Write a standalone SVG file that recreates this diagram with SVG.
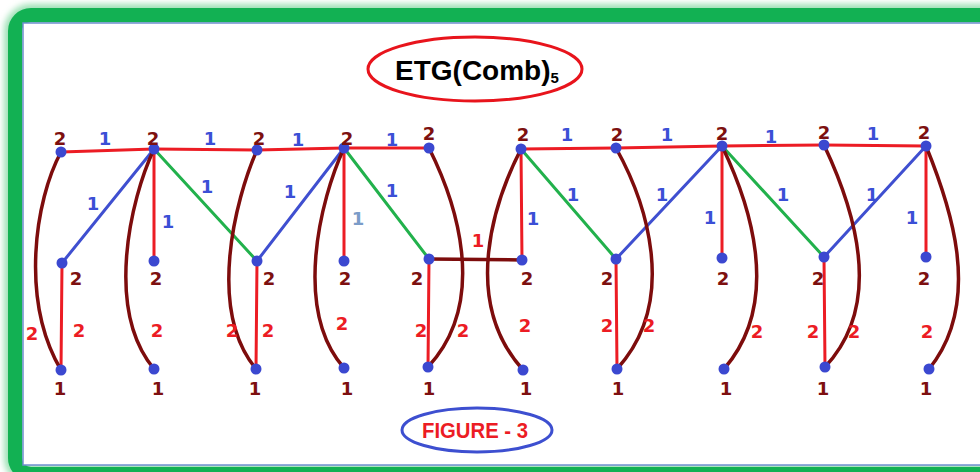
<svg xmlns="http://www.w3.org/2000/svg" width="980" height="472" viewBox="0 0 980 472">
<defs>
<filter id="soft" x="-5%" y="-5%" width="110%" height="110%"><feGaussianBlur stdDeviation="3"/></filter>
</defs>
<style>
.red{stroke:#ec1c24;stroke-width:3;fill:none;stroke-linecap:round}
.blue{stroke:#3f4fd0;stroke-width:3;fill:none;stroke-linecap:round}
.green{stroke:#22b14c;stroke-width:3;fill:none;stroke-linecap:round}
.mar{stroke:#7d0c0c;stroke-width:3.5;fill:none;stroke-linecap:round}
.dot{fill:#3b48d0}
text{font-family:"DejaVu Sans","Liberation Sans",sans-serif;font-weight:bold;font-size:18px;text-anchor:middle}
.nl{fill:#7d1010}
.bl{fill:#3b4fd6}
.lb{fill:#7b9cc8}
.rl{fill:#ec1c24}
</style>
<rect x="0" y="0" width="980" height="472" fill="#ffffff"/>
<g id="frame">
<rect x="15" y="15" width="1000" height="459" rx="16" fill="none" stroke="#9be0b4" stroke-width="22" filter="url(#soft)"/>
<rect x="15" y="15" width="1000" height="459" rx="16" fill="none" stroke="#12b153" stroke-width="14"/>
<rect x="23" y="23" width="970" height="442" fill="#ffffff" stroke="#6f8fcf" stroke-width="1.5"/>
</g>
<g id="title">
<ellipse cx="475" cy="69" rx="107" ry="32" fill="none" stroke="#e8141c" stroke-width="3"/>
<text x="395" y="80" style="font-family:'Liberation Sans',sans-serif;font-size:28px;text-anchor:start;fill:#000">ETG(Comb)<tspan dy="3" style="font-size:15px">5</tspan></text>
</g>
<g id="caption">
<ellipse cx="477" cy="430" rx="75" ry="22" fill="none" stroke="#3d4fd0" stroke-width="3"/>
<text x="422" y="438" style="font-family:'Liberation Sans',sans-serif;font-size:22px;text-anchor:start;fill:#ec1c24" textLength="106" lengthAdjust="spacingAndGlyphs">FIGURE - 3</text>
</g>
<g id="connectors">
<line class="red" x1="61" y1="152" x2="154" y2="149"/>
<line class="red" x1="154" y1="149" x2="257" y2="150"/>
<line class="red" x1="257" y1="150" x2="344" y2="148"/>
<line class="red" x1="344" y1="148" x2="429" y2="148"/>
<line class="red" x1="521" y1="149" x2="616" y2="148"/>
<line class="red" x1="616" y1="148" x2="722" y2="146"/>
<line class="red" x1="722" y1="146" x2="824" y2="145"/>
<line class="red" x1="824" y1="145" x2="926" y2="146"/>
<line class="red" x1="154" y1="149" x2="154" y2="261"/>
<line class="red" x1="344" y1="148" x2="344" y2="261"/>
<line class="red" x1="521" y1="149" x2="522" y2="260"/>
<line class="red" x1="722" y1="146" x2="722" y2="258"/>
<line class="red" x1="926" y1="146" x2="926" y2="257"/>
<line class="red" x1="62" y1="263" x2="61" y2="370"/>
<line class="red" x1="257" y1="261" x2="256" y2="369"/>
<line class="red" x1="429" y1="259" x2="428" y2="367"/>
<line class="red" x1="616" y1="259" x2="617" y2="369"/>
<line class="red" x1="824" y1="257" x2="825" y2="367"/>
<line class="blue" x1="154" y1="149" x2="62" y2="263"/>
<line class="blue" x1="344" y1="148" x2="257" y2="261"/>
<line class="blue" x1="722" y1="146" x2="616" y2="259"/>
<line class="blue" x1="926" y1="146" x2="824" y2="257"/>
<line class="green" x1="154" y1="149" x2="257" y2="261"/>
<line class="green" x1="344" y1="148" x2="429" y2="259"/>
<line class="green" x1="521" y1="149" x2="616" y2="259"/>
<line class="green" x1="722" y1="146" x2="824" y2="257"/>
<line class="mar" x1="429" y1="259" x2="522" y2="260"/>
<path class="mar" d="M61,152 C35,200 20,300 61,370"/>
<path class="mar" d="M154,149 C130,200 105,310 154,369"/>
<path class="mar" d="M257,150 C235,200 207,310 256,369"/>
<path class="mar" d="M344,148 C320,200 293,310 344,368"/>
<path class="mar" d="M429,148 C455,200 490,300 428,367"/>
<path class="mar" d="M521,149 C495,200 460,300 523,370"/>
<path class="mar" d="M616,148 C645,200 680,300 617,369"/>
<path class="mar" d="M722,146 C748,200 784,300 724,369"/>
<path class="mar" d="M824,145 C850,200 888,300 825,367"/>
<path class="mar" d="M926,146 C948,200 985,300 929,369"/>
<text class="bl" x="105" y="145">1</text>
<text class="bl" x="210" y="145">1</text>
<text class="bl" x="298" y="146">1</text>
<text class="bl" x="392" y="146">1</text>
<text class="bl" x="567" y="141">1</text>
<text class="bl" x="667" y="141">1</text>
<text class="bl" x="771" y="143">1</text>
<text class="bl" x="873" y="140">1</text>
<text class="bl" x="93" y="210">1</text>
<text class="bl" x="168" y="228">1</text>
<text class="bl" x="207" y="193">1</text>
<text class="bl" x="290" y="198">1</text>
<text class="lb" x="358" y="225">1</text>
<text class="bl" x="392" y="197">1</text>
<text class="bl" x="533" y="225">1</text>
<text class="bl" x="573" y="201">1</text>
<text class="bl" x="662" y="201">1</text>
<text class="bl" x="710" y="224">1</text>
<text class="bl" x="783" y="201">1</text>
<text class="bl" x="872" y="201">1</text>
<text class="bl" x="912" y="224">1</text>
<text class="rl" x="478" y="247">1</text>
<text class="rl" x="32" y="340">2</text>
<text class="rl" x="79" y="337">2</text>
<text class="rl" x="157" y="337">2</text>
<text class="rl" x="232" y="337">2</text>
<text class="rl" x="268" y="337">2</text>
<text class="rl" x="342" y="330">2</text>
<text class="rl" x="421" y="337">2</text>
<text class="rl" x="463" y="337">2</text>
<text class="rl" x="525" y="332">2</text>
<text class="rl" x="607" y="332">2</text>
<text class="rl" x="649" y="332">2</text>
<text class="rl" x="757" y="338">2</text>
<text class="rl" x="813" y="338">2</text>
<text class="rl" x="854" y="338">2</text>
<text class="rl" x="927" y="338">2</text>
</g>
<g id="T1"><circle class="dot" cx="61" cy="152" r="5.5"/><text class="nl" x="60" y="145">2</text></g>
<g id="T2"><circle class="dot" cx="154" cy="149" r="5.5"/><text class="nl" x="153" y="145">2</text></g>
<g id="T3"><circle class="dot" cx="257" cy="150" r="5.5"/><text class="nl" x="259" y="145">2</text></g>
<g id="T4"><circle class="dot" cx="344" cy="148" r="5.5"/><text class="nl" x="347" y="145">2</text></g>
<g id="T5"><circle class="dot" cx="429" cy="148" r="5.5"/><text class="nl" x="429" y="140">2</text></g>
<g id="T6"><circle class="dot" cx="521" cy="149" r="5.5"/><text class="nl" x="523" y="141">2</text></g>
<g id="T7"><circle class="dot" cx="616" cy="148" r="5.5"/><text class="nl" x="617" y="141">2</text></g>
<g id="T8"><circle class="dot" cx="722" cy="146" r="5.5"/><text class="nl" x="722" y="140">2</text></g>
<g id="T9"><circle class="dot" cx="824" cy="145" r="5.5"/><text class="nl" x="824" y="139">2</text></g>
<g id="T10"><circle class="dot" cx="926" cy="146" r="5.5"/><text class="nl" x="924" y="139">2</text></g>
<g id="M1"><circle class="dot" cx="62" cy="263" r="5.5"/><text class="nl" x="76" y="285">2</text></g>
<g id="M2"><circle class="dot" cx="154" cy="261" r="5.5"/><text class="nl" x="156" y="285">2</text></g>
<g id="M3"><circle class="dot" cx="257" cy="261" r="5.5"/><text class="nl" x="269" y="285">2</text></g>
<g id="M4"><circle class="dot" cx="344" cy="261" r="5.5"/><text class="nl" x="345" y="285">2</text></g>
<g id="M5"><circle class="dot" cx="429" cy="259" r="5.5"/><text class="nl" x="417" y="285">2</text></g>
<g id="M6"><circle class="dot" cx="522" cy="260" r="5.5"/><text class="nl" x="527" y="285">2</text></g>
<g id="M7"><circle class="dot" cx="616" cy="259" r="5.5"/><text class="nl" x="607" y="285">2</text></g>
<g id="M8"><circle class="dot" cx="722" cy="258" r="5.5"/><text class="nl" x="723" y="285">2</text></g>
<g id="M9"><circle class="dot" cx="824" cy="257" r="5.5"/><text class="nl" x="818" y="285">2</text></g>
<g id="M10"><circle class="dot" cx="926" cy="257" r="5.5"/><text class="nl" x="924" y="285">2</text></g>
<g id="B1"><circle class="dot" cx="61" cy="370" r="5.5"/><text class="nl" x="60" y="395">1</text></g>
<g id="B2"><circle class="dot" cx="154" cy="369" r="5.5"/><text class="nl" x="158" y="395">1</text></g>
<g id="B3"><circle class="dot" cx="256" cy="369" r="5.5"/><text class="nl" x="255" y="395">1</text></g>
<g id="B4"><circle class="dot" cx="344" cy="368" r="5.5"/><text class="nl" x="347" y="395">1</text></g>
<g id="B5"><circle class="dot" cx="428" cy="367" r="5.5"/><text class="nl" x="429" y="395">1</text></g>
<g id="B6"><circle class="dot" cx="523" cy="370" r="5.5"/><text class="nl" x="526" y="395">1</text></g>
<g id="B7"><circle class="dot" cx="617" cy="369" r="5.5"/><text class="nl" x="618" y="395">1</text></g>
<g id="B8"><circle class="dot" cx="724" cy="369" r="5.5"/><text class="nl" x="726" y="395">1</text></g>
<g id="B9"><circle class="dot" cx="825" cy="367" r="5.5"/><text class="nl" x="823" y="395">1</text></g>
<g id="B10"><circle class="dot" cx="929" cy="369" r="5.5"/><text class="nl" x="926" y="395">1</text></g>
</svg>
